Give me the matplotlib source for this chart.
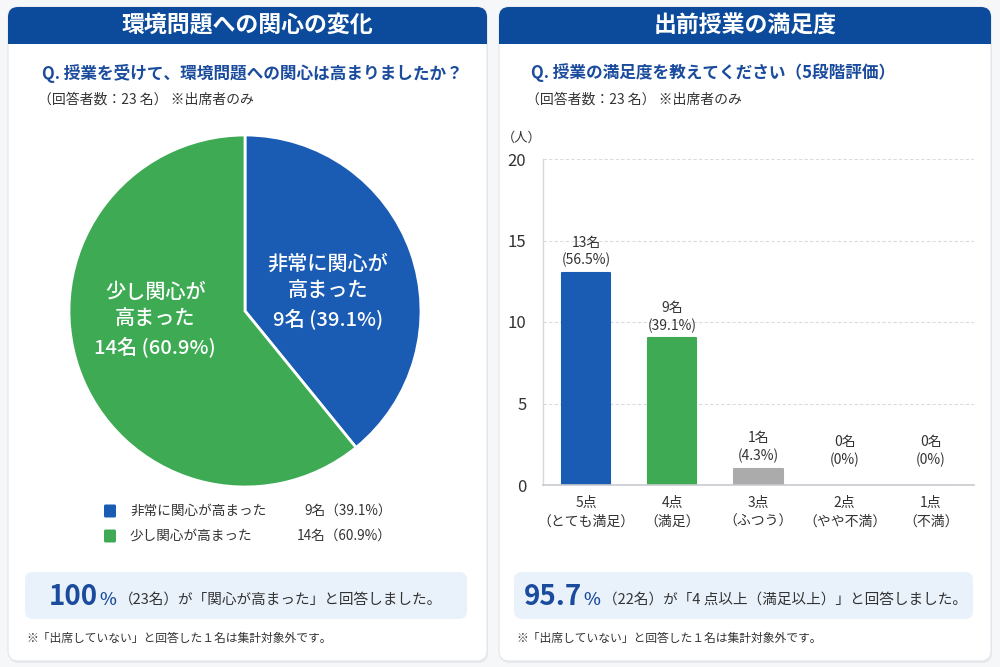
import matplotlib
matplotlib.use("Agg")
import matplotlib.pyplot as plt
from matplotlib.patches import FancyBboxPatch, Rectangle

plt.rcParams['font.family'] = ['Noto Sans CJK JP', 'DejaVu Sans']

# ---------------- data ----------------
pie_labels = ["非常に関心が高まった", "少し関心が高まった"]
pie_counts = [9, 14]
pie_pcts = ["39.1%", "60.9%"]
pie_inner = ["非常に関心が\n高まった", "少し関心が\n高まった"]

bar_cats = ["5点\n（とても満足）", "4点\n（満足）", "3点\n（ふつう）", "2点\n（やや不満）", "1点\n（不満）"]
bar_counts = [13, 9, 1, 0, 0]
bar_pcts = ["56.5%", "39.1%", "4.3%", "0%", "0%"]
y_ticks = [0, 5, 10, 15, 20]

left_title = "環境問題への関心の変化"
left_q = "Q. 授業を受けて、環境問題への関心は高まりましたか？"
right_title = "出前授業の満足度"
right_q = "Q. 授業の満足度を教えてください（5段階評価）"
sub = "（回答者数：23 名） ※出席者のみ"
note = "※「出席していない」と回答した１名は集計対象外です。"
left_big, left_rest = "100", "（23名）が「関心が高まった」と回答しました。"
right_big, right_rest = "95.7", "（22名）が「4 点以上（満足以上）」と回答しました。"

# ---------------- style ----------------
HEAD = "#0c4a9c"
QBLUE = "#1a4b9c"
BLUE = "#1a5cb4"
GREEN = "#3eab54"
GREY = "#ababab"
TXT = "#333333"
BOXBG = "#e9f1fb"

W, H = 1000, 667
fig = plt.figure(figsize=(W / 100, H / 100), dpi=100)
fig.patch.set_facecolor("#f6f7f9")

bg = fig.add_axes([0, 0, 1, 1])
bg.set_xlim(0, W)
bg.set_ylim(H, 0)
bg.axis("off")
bg.set_zorder(0)


def card(x0, x1, y0, y1, title):
    bg.add_patch(FancyBboxPatch((x0 + 1, y0 + 2), x1 - x0, y1 - y0,
                                boxstyle="round,pad=0,rounding_size=10",
                                fc="#dde1e6", ec="none", alpha=0.6))
    bg.add_patch(FancyBboxPatch((x0, y0), x1 - x0, y1 - y0,
                                boxstyle="round,pad=0,rounding_size=10",
                                fc="white", ec="#e2e5ea", lw=0.8))
    bg.add_patch(FancyBboxPatch((x0, y0), x1 - x0, 37,
                                boxstyle="round,pad=0,rounding_size=10",
                                fc=HEAD, ec="none"))
    bg.add_patch(Rectangle((x0, y0 + 20), x1 - x0, 17, fc=HEAD, ec="none"))
    bg.text((x0 + x1) / 2, y0 + 19, title, color="white", fontsize=16.5,
            fontweight="bold", ha="center", va="center")


card(8, 487, 7, 661, left_title)
card(499, 991, 7, 661, right_title)

# questions & subtitles
bg.text(42, 73, left_q, color=QBLUE, fontsize=12, fontweight="bold", va="center")
bg.text(38, 100, sub, color=TXT, fontsize=10, va="center")
bg.text(531, 73, right_q, color=QBLUE, fontsize=12, fontweight="bold", va="center")
bg.text(526, 100, sub, color=TXT, fontsize=10, va="center")

# ---------------- pie ----------------
cx, cy, r = 245, 311, 176
pax = fig.add_axes([(cx - r) / W, (H - cy - r) / H, 2 * r / W, 2 * r / H])
pax.pie(pie_counts, colors=[BLUE, GREEN], startangle=90, counterclock=False,
        wedgeprops=dict(edgecolor="white", linewidth=2), radius=1)
pax.set_xlim(-1, 1)
pax.set_ylim(-1, 1)
pax.axis("off")
pax.text(0.47, 0.11, f"{pie_inner[0]}\n{pie_counts[0]}名 ({pie_pcts[0]})", color="white",
         fontsize=14.5, ha="center", va="center", linespacing=1.5, fontweight="medium")
pax.text(-0.51, -0.05, f"{pie_inner[1]}\n{pie_counts[1]}名 ({pie_pcts[1]})", color="white",
         fontsize=14.5, ha="center", va="center", linespacing=1.5, fontweight="medium")

# legend
for i, (lab, c, pc, col) in enumerate(zip(pie_labels, pie_counts, pie_pcts, [BLUE, GREEN])):
    y = 511 + i * 25
    bg.add_patch(FancyBboxPatch((104, y - 6.5), 12, 13, boxstyle="round,pad=0,rounding_size=1.5",
                                fc=col, ec="none"))
    bg.text(130, y, lab, color=TXT, fontsize=9.8, va="center")
    bg.text(392, y, f"{c}名（{pc}）", color=TXT, fontsize=9.8, va="center", ha="right")

# ---------------- bar ----------------
bx0, bx1, by_top, by0 = 543, 974, 159, 485
bax = fig.add_axes([bx0 / W, (H - by0) / H, (bx1 - bx0) / W, (by0 - by_top) / H])
bax.set_facecolor("none")
xs = list(range(len(bar_cats)))
cols = [BLUE, GREEN, GREY, GREY, GREY]
lws = [1.5 if v > 0 else 0 for v in bar_counts]
bars = bax.bar(xs, bar_counts, width=0.56, color=cols, edgecolor=cols, linewidth=lws,
               joinstyle="round", zorder=3)
bax.set_xlim(-0.5, len(bar_cats) - 0.5)
bax.set_ylim(0, 20)
bax.set_yticks(y_ticks)
bax.set_yticklabels([str(t) for t in y_ticks], fontsize=12, color=TXT)
bax.set_xticks(xs)
bax.set_xticklabels(bar_cats, fontsize=10, color=TXT, linespacing=1.45)
bax.tick_params(length=0, pad=8)
bax.tick_params(axis="y", pad=12)
for s in ["top", "right"]:
    bax.spines[s].set_visible(False)
bax.spines["left"].set_color("#d5d8dc")
bax.spines["bottom"].set_color("#c8cbcf")
bax.spines["left"].set_linewidth(1)
bax.spines["bottom"].set_linewidth(1.2)
bax.spines["bottom"].set_zorder(4)
bax.yaxis.grid(True, linestyle=(0, (3, 2)), color="#d9dcdf", linewidth=0.8, zorder=0)
bax.set_axisbelow(True)
for x, v, p in zip(xs, bar_counts, bar_pcts):
    off = 4 if v > 0 else 13
    bax.annotate(f"{v}名\n({p})", (x, v), xytext=(0, off), textcoords="offset points",
                 ha="center", va="bottom", fontsize=10, color=TXT, linespacing=1.3)
bg.text(522, 138, "（人）", color=TXT, fontsize=9.5, va="center", ha="center")

# ---------------- summary boxes ----------------
fig.canvas.draw()
renderer = fig.canvas.get_renderer()


def summary(x0, x1, big, rest):
    bg.add_patch(FancyBboxPatch((x0, 572), x1 - x0, 47, boxstyle="round,pad=0,rounding_size=8",
                                fc=BOXBG, ec="none"))
    base = 605
    t1 = bg.text(x0 + 24 if big == "100" else x0 + 10, base, big, color=QBLUE, fontsize=20,
                 fontweight="bold", va="baseline")
    fig.canvas.draw()
    e = t1.get_window_extent(renderer)
    t2 = bg.text(e.x1 + 1, base, "%", color=QBLUE, fontsize=13, fontweight="medium",
                 va="baseline")
    e2 = t2.get_window_extent(renderer)
    bg.text(e2.x1 + 3, base - 1, rest, color=TXT, fontsize=10.5, va="baseline")


summary(25, 467, left_big, left_rest)
summary(514, 973, right_big, right_rest)

bg.text(26, 638, note, color=TXT, fontsize=8.5, va="center")
bg.text(516, 638, note, color=TXT, fontsize=8.5, va="center")

fig.savefig("out.png", dpi=100, facecolor=fig.get_facecolor())
